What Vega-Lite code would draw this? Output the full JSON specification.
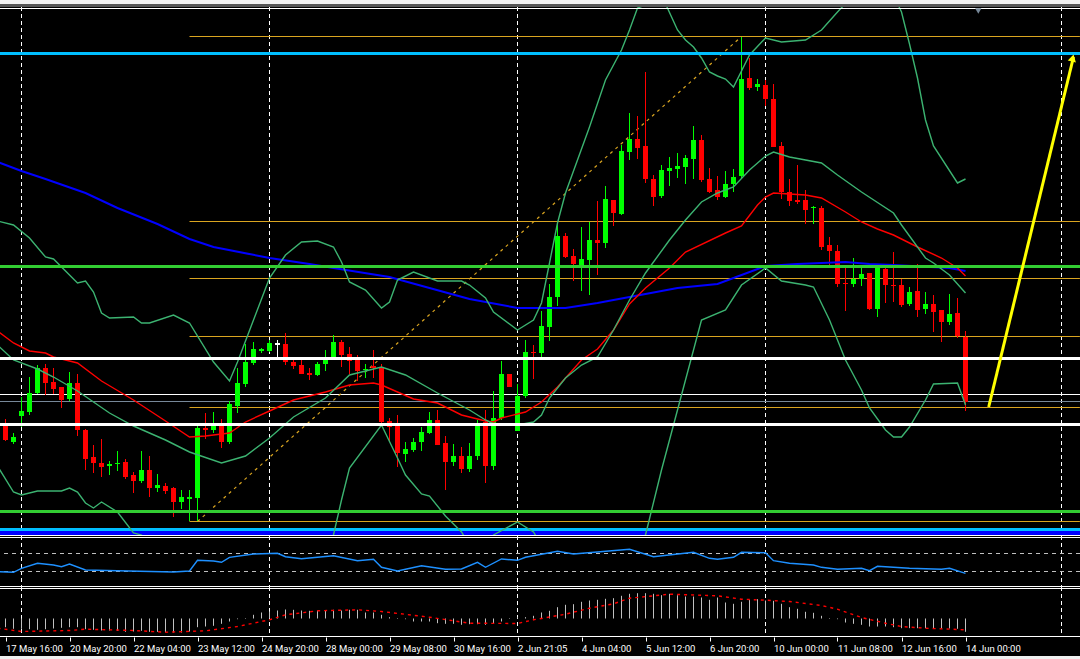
{
"$schema":"https://vega.github.io/schema/vega-lite/v5.json",
"description":"Candlestick chart with moving averages, bands, horizontal levels and two indicator panels.",
"background":"#000000",
"padding":0,
"spacing":0,
"config":{"view":{"stroke":null},"concat":{"spacing":0}},
"datasets":{
"gridBars":[{"bar":2},{"bar":33},{"bar":64},{"bar":95},{"bar":132}],
"candles":[
{"bar":0,"open":233,"high":240,"low":218,"close":219},{"bar":1,"open":217,"high":226,"low":215,"close":222},{"bar":2,"open":243,"high":262,"low":232,"close":248},{"bar":3,"open":247,"high":282,"low":244,"close":266},{"bar":4,"open":266,"high":294,"low":265,"close":291},{"bar":5,"open":291,"high":295,"low":264,"close":276},{"bar":6,"open":277,"high":291,"low":265,"close":270},{"bar":7,"open":272,"high":272,"low":251,"close":259},{"bar":8,"open":260,"high":287,"low":258,"close":276},{"bar":9,"open":276,"high":285,"low":223,"close":229},
{"bar":10,"open":229,"high":230,"low":189,"close":200},{"bar":11,"open":202,"high":214,"low":186,"close":196},{"bar":12,"open":196,"high":220,"low":182,"close":192},{"bar":13,"open":193,"high":198,"low":184,"close":195},{"bar":14,"open":195,"high":208,"low":188,"close":196},{"bar":15,"open":197,"high":200,"low":180,"close":182},{"bar":16,"open":184,"high":187,"low":166,"close":178},{"bar":17,"open":178,"high":208,"low":176,"close":189},{"bar":18,"open":189,"high":203,"low":162,"close":171},{"bar":19,"open":171,"high":185,"low":167,"close":174},
{"bar":20,"open":173,"high":176,"low":165,"close":168},{"bar":21,"open":171,"high":172,"low":142,"close":157},{"bar":22,"open":157,"high":169,"low":150,"close":162},{"bar":23,"open":160,"high":169,"low":138,"close":162},{"bar":24,"open":161,"high":233,"low":138,"close":231},{"bar":25,"open":231,"high":246,"low":220,"close":229},{"bar":26,"open":229,"high":247,"low":226,"close":233},{"bar":27,"open":233,"high":240,"low":211,"close":217},{"bar":28,"open":217,"high":258,"low":215,"close":255},{"bar":29,"open":253,"high":291,"low":246,"close":276},
{"bar":30,"open":275,"high":315,"low":272,"close":297},{"bar":31,"open":296,"high":317,"low":294,"close":310},{"bar":32,"open":308,"high":311,"low":306,"close":310},{"bar":33,"open":308,"high":319,"low":307,"close":316},{"bar":34,"open":315,"high":319,"low":301,"close":315},{"bar":35,"open":315,"high":326,"low":294,"close":297},{"bar":36,"open":297,"high":301,"low":290,"close":293},{"bar":37,"open":294,"high":301,"low":285,"close":285},{"bar":38,"open":286,"high":291,"low":279,"close":284},{"bar":39,"open":284,"high":297,"low":283,"close":295},
{"bar":40,"open":295,"high":309,"low":288,"close":299},{"bar":41,"open":302,"high":324,"low":301,"close":317},{"bar":42,"open":317,"high":319,"low":292,"close":304},{"bar":43,"open":305,"high":312,"low":285,"close":298},{"bar":44,"open":299,"high":304,"low":278,"close":288},{"bar":45,"open":289,"high":295,"low":281,"close":290},{"bar":46,"open":293,"high":309,"low":281,"close":291},{"bar":47,"open":292,"high":295,"low":236,"close":237},{"bar":48,"open":238,"high":241,"low":217,"close":232},{"bar":49,"open":233,"high":244,"low":192,"close":206},
{"bar":50,"open":205,"high":217,"low":197,"close":210},{"bar":51,"open":209,"high":221,"low":207,"close":217},{"bar":52,"open":217,"high":232,"low":208,"close":227},{"bar":53,"open":226,"high":247,"low":225,"close":239},{"bar":54,"open":239,"high":249,"low":214,"close":214},{"bar":55,"open":216,"high":223,"low":169,"close":197},{"bar":56,"open":197,"high":215,"low":193,"close":203},{"bar":57,"open":203,"high":212,"low":186,"close":190},{"bar":58,"open":190,"high":216,"low":187,"close":203},{"bar":59,"open":203,"high":239,"low":199,"close":234},
{"bar":60,"open":237,"high":249,"low":176,"close":193},{"bar":61,"open":193,"high":268,"low":189,"close":241},{"bar":62,"open":241,"high":298,"low":239,"close":285},{"bar":63,"open":285,"high":285,"low":272,"close":272},{"bar":64,"open":228,"high":275,"low":228,"close":263},{"bar":65,"open":263,"high":319,"low":261,"close":307},{"bar":66,"open":307,"high":314,"low":280,"close":306},{"bar":67,"open":306,"high":348,"low":302,"close":333},{"bar":68,"open":332,"high":375,"low":318,"close":362},{"bar":69,"open":362,"high":436,"low":353,"close":423},
{"bar":70,"open":423,"high":426,"low":401,"close":402},{"bar":71,"open":403,"high":410,"low":378,"close":395},{"bar":72,"open":394,"high":432,"low":368,"close":400},{"bar":73,"open":399,"high":437,"low":364,"close":419},{"bar":74,"open":419,"high":458,"low":384,"close":416},{"bar":75,"open":416,"high":473,"low":411,"close":460},{"bar":76,"open":459,"high":459,"low":433,"close":446},{"bar":77,"open":445,"high":514,"low":444,"close":508},{"bar":78,"open":507,"high":546,"low":499,"close":520},{"bar":79,"open":520,"high":543,"low":500,"close":511},
{"bar":80,"open":513,"high":587,"low":476,"close":480},{"bar":81,"open":480,"high":484,"low":453,"close":462},{"bar":82,"open":463,"high":494,"low":461,"close":489},{"bar":83,"open":488,"high":502,"low":473,"close":491},{"bar":84,"open":490,"high":506,"low":481,"close":493},{"bar":85,"open":492,"high":504,"low":475,"close":501},{"bar":86,"open":500,"high":533,"low":480,"close":519},{"bar":87,"open":519,"high":524,"low":477,"close":479},{"bar":88,"open":480,"high":491,"low":466,"close":467},{"bar":89,"open":469,"high":483,"low":459,"close":462},
{"bar":90,"open":462,"high":488,"low":461,"close":475},{"bar":91,"open":475,"high":490,"low":467,"close":482},{"bar":92,"open":483,"high":622,"low":480,"close":580},{"bar":93,"open":581,"high":601,"low":569,"close":571},{"bar":94,"open":572,"high":580,"low":568,"close":575},{"bar":95,"open":574,"high":579,"low":553,"close":560},{"bar":96,"open":560,"high":575,"low":512,"close":512},{"bar":97,"open":513,"high":517,"low":460,"close":467},{"bar":98,"open":467,"high":480,"low":453,"close":458},{"bar":99,"open":459,"high":494,"low":455,"close":457},
{"bar":100,"open":459,"high":469,"low":435,"close":449},{"bar":101,"open":451,"high":453,"low":435,"close":452},{"bar":102,"open":451,"high":453,"low":409,"close":412},{"bar":103,"open":414,"high":422,"low":394,"close":408},{"bar":104,"open":408,"high":414,"low":372,"close":375},{"bar":105,"open":376,"high":391,"low":348,"close":375},{"bar":106,"open":375,"high":401,"low":372,"close":380},{"bar":107,"open":380,"high":391,"low":373,"close":385},{"bar":108,"open":386,"high":386,"low":349,"close":350},{"bar":109,"open":350,"high":394,"low":342,"close":392},
{"bar":110,"open":390,"high":392,"low":356,"close":374},{"bar":111,"open":374,"high":407,"low":357,"close":373},{"bar":112,"open":374,"high":380,"low":352,"close":354},{"bar":113,"open":355,"high":372,"low":353,"close":367},{"bar":114,"open":368,"high":395,"low":342,"close":349},{"bar":115,"open":350,"high":367,"low":345,"close":355},{"bar":116,"open":355,"high":364,"low":327,"close":347},{"bar":117,"open":349,"high":349,"low":317,"close":337},{"bar":118,"open":337,"high":365,"low":334,"close":345},{"bar":119,"open":346,"high":361,"low":321,"close":323},
{"bar":120,"open":322,"high":328,"low":248,"close":257}],
"maSlow":[{"bar":-1,"level":497},{"bar":2,"level":488},{"bar":5,"level":480},{"bar":10,"level":466},{"bar":14,"level":451},{"bar":19,"level":435},{"bar":23,"level":420},{"bar":26,"level":412},{"bar":33,"level":401},{"bar":38,"level":395},{"bar":41,"level":391},{"bar":48,"level":382},{"bar":53,"level":371},{"bar":58,"level":360},{"bar":64,"level":351},{"bar":70,"level":351},{"bar":74,"level":356},{"bar":78,"level":362},{"bar":84,"level":371},{"bar":89,"level":375},{"bar":95,"level":393},{"bar":99,"level":395},{"bar":105,"level":397},{"bar":108,"level":395},{"bar":111,"level":394},{"bar":118,"level":391},{"bar":120,"level":388}],
"maMid":[{"bar":-1,"level":328},{"bar":1,"level":316},{"bar":3,"level":308},{"bar":5,"level":306},{"bar":6,"level":302},{"bar":9,"level":296},{"bar":12,"level":278},{"bar":16,"level":259},{"bar":20,"level":238},{"bar":23,"level":222},{"bar":25,"level":223},{"bar":28,"level":226},{"bar":30,"level":237},{"bar":33,"level":248},{"bar":36,"level":259},{"bar":40,"level":267},{"bar":43,"level":274},{"bar":46,"level":276},{"bar":47,"level":274},{"bar":51,"level":260},{"bar":54,"level":256},{"bar":57,"level":244},{"bar":60,"level":238},{"bar":61,"level":237},{"bar":62,"level":241},{"bar":65,"level":247},{"bar":66,"level":252},{"bar":67,"level":257},{"bar":69,"level":272},{"bar":72,"level":299},{"bar":74,"level":310},{"bar":76,"level":329},{"bar":78,"level":355},{"bar":80,"level":371},{"bar":83,"level":391},{"bar":85,"level":407},{"bar":90,"level":426},{"bar":92,"level":433},{"bar":94,"level":454},{"bar":95,"level":462},{"bar":96,"level":466},{"bar":100,"level":464},{"bar":102,"level":461},{"bar":105,"level":447},{"bar":107,"level":437},{"bar":109,"level":430},{"bar":111,"level":424},{"bar":114,"level":412},{"bar":117,"level":401},{"bar":119,"level":391},{"bar":120,"level":383}],
"bandUpper":[{"bar":-1,"level":438},{"bar":1,"level":434},{"bar":3,"level":421},{"bar":5,"level":402},{"bar":6,"level":400},{"bar":9,"level":376},{"bar":10,"level":378},{"bar":11,"level":367},{"bar":12,"level":346},{"bar":13,"level":341},{"bar":16,"level":342},{"bar":17,"level":336},{"bar":18,"level":336},{"bar":21,"level":344},{"bar":23,"level":336},{"bar":26,"level":297},{"bar":28,"level":278},{"bar":29,"level":297},{"bar":31,"level":339},{"bar":33,"level":381},{"bar":35,"level":404},{"bar":37,"level":417},{"bar":39,"level":418},{"bar":41,"level":412},{"bar":42,"level":397},{"bar":43,"level":377},{"bar":45,"level":369},{"bar":47,"level":351},{"bar":48,"level":357},{"bar":49,"level":379},{"bar":51,"level":387},{"bar":54,"level":378},{"bar":57,"level":378},{"bar":58,"level":374},{"bar":60,"level":361},{"bar":61,"level":347},{"bar":64,"level":329},{"bar":66,"level":339},{"bar":67,"level":356},{"bar":69,"level":436},{"bar":70,"level":466},{"bar":73,"level":532},{"bar":75,"level":579},{"bar":77,"level":609},{"bar":78,"level":629},{"bar":79,"level":651},{"bar":80,"level":654},{"bar":82,"level":664},{"bar":84,"level":629},{"bar":85,"level":619},{"bar":86,"level":612},{"bar":87,"level":601},{"bar":88,"level":587},{"bar":89,"level":583},{"bar":90,"level":580},{"bar":91,"level":572},{"bar":93,"level":604},{"bar":95,"level":621},{"bar":97,"level":617},{"bar":100,"level":619},{"bar":102,"level":629},{"bar":104,"level":647},{"bar":106,"level":664},{"bar":111,"level":664},{"bar":112,"level":647},{"bar":113,"level":615},{"bar":114,"level":581},{"bar":115,"level":539},{"bar":116,"level":513},{"bar":119,"level":476},{"bar":120,"level":480}],
"bandInner":[{"bar":-1,"level":314},{"bar":1,"level":299},{"bar":4,"level":290},{"bar":6,"level":282},{"bar":9,"level":268},{"bar":13,"level":246},{"bar":16,"level":233},{"bar":20,"level":219},{"bar":23,"level":207},{"bar":27,"level":196},{"bar":30,"level":203},{"bar":33,"level":221},{"bar":36,"level":242},{"bar":40,"level":261},{"bar":43,"level":284},{"bar":47,"level":292},{"bar":50,"level":284},{"bar":54,"level":266},{"bar":58,"level":249},{"bar":60,"level":239},{"bar":61,"level":235},{"bar":64,"level":234},{"bar":66,"level":237},{"bar":67,"level":244},{"bar":68,"level":261},{"bar":70,"level":281},{"bar":72,"level":294},{"bar":74,"level":302},{"bar":76,"level":329},{"bar":78,"level":359},{"bar":80,"level":386},{"bar":83,"level":419},{"bar":85,"level":439},{"bar":87,"level":457},{"bar":89,"level":466},{"bar":91,"level":472},{"bar":93,"level":489},{"bar":95,"level":503},{"bar":96,"level":507},{"bar":98,"level":502},{"bar":102,"level":496},{"bar":104,"level":484},{"bar":107,"level":467},{"bar":111,"level":446},{"bar":112,"level":434},{"bar":115,"level":401},{"bar":116,"level":396},{"bar":118,"level":384},{"bar":120,"level":366}],
"bandLower":[{"bar":-1,"level":193},{"bar":1,"level":167},{"bar":2,"level":164},{"bar":4,"level":168},{"bar":7,"level":168},{"bar":8,"level":171},{"bar":9,"level":167},{"bar":10,"level":156},{"bar":11,"level":151},{"bar":12,"level":157},{"bar":14,"level":147},{"bar":16,"level":126},{"bar":17,"level":124},{"bar":18,"level":114},{"bar":40,"level":114},{"bar":41,"level":124},{"bar":42,"level":159},{"bar":43,"level":191},{"bar":47,"level":234},{"bar":49,"level":201},{"bar":50,"level":184},{"bar":52,"level":165},{"bar":53,"level":163},{"bar":55,"level":143},{"bar":57,"level":127},{"bar":58,"level":114},{"bar":60,"level":114},{"bar":61,"level":124},{"bar":64,"level":137},{"bar":66,"level":127},{"bar":67,"level":114},{"bar":78,"level":114},{"bar":80,"level":124},{"bar":82,"level":189},{"bar":84,"level":249},{"bar":87,"level":339},{"bar":90,"level":349},{"bar":92,"level":374},{"bar":95,"level":391},{"bar":97,"level":378},{"bar":100,"level":374},{"bar":101,"level":372},{"bar":103,"level":339},{"bar":105,"level":299},{"bar":107,"level":269},{"bar":108,"level":251},{"bar":110,"level":229},{"bar":111,"level":222},{"bar":112,"level":222},{"bar":113,"level":232},{"bar":115,"level":259},{"bar":116,"level":275},{"bar":119,"level":276},{"bar":120,"level":254}],
"oscillator":[{"bar":-1,"value":15.3},{"bar":1,"value":14.7},{"bar":2,"value":18.7},{"bar":4,"value":23.7},{"bar":6,"value":22},{"bar":7,"value":20.3},{"bar":8,"value":23},{"bar":10,"value":17},{"bar":14,"value":16.3},{"bar":21,"value":15},{"bar":23,"value":16},{"bar":24,"value":26.7},{"bar":26,"value":26},{"bar":27,"value":24.7},{"bar":28,"value":29.7},{"bar":31,"value":33},{"bar":34,"value":33.7},{"bar":35,"value":30.3},{"bar":37,"value":28.3},{"bar":41,"value":31.3},{"bar":44,"value":26.3},{"bar":46,"value":27.7},{"bar":47,"value":19.7},{"bar":49,"value":16},{"bar":52,"value":21.3},{"bar":55,"value":17.7},{"bar":57,"value":18},{"bar":59,"value":24.7},{"bar":60,"value":19.7},{"bar":62,"value":28},{"bar":64,"value":26.7},{"bar":65,"value":29.7},{"bar":69,"value":35.7},{"bar":71,"value":33},{"bar":78,"value":37.7},{"bar":81,"value":30.3},{"bar":86,"value":34.7},{"bar":88,"value":28.7},{"bar":89,"value":27.7},{"bar":91,"value":29.7},{"bar":92,"value":34.7},{"bar":95,"value":34.3},{"bar":96,"value":26.3},{"bar":98,"value":23.7},{"bar":101,"value":22},{"bar":102,"value":19.7},{"bar":104,"value":17.7},{"bar":107,"value":18.7},{"bar":108,"value":16.3},{"bar":109,"value":20.7},{"bar":113,"value":18.7},{"bar":117,"value":17.7},{"bar":118,"value":18.7},{"bar":120,"value":13.7}],
"histogram":[{"bar":0,"value":-8.7},{"bar":1,"value":-10.3},{"bar":2,"value":-10.3},{"bar":3,"value":-10.7},{"bar":4,"value":-11.3},{"bar":5,"value":-10.7},{"bar":6,"value":-10},{"bar":7,"value":-9.3},{"bar":8,"value":-8.7},{"bar":9,"value":-8.7},{"bar":10,"value":-10.7},{"bar":11,"value":-11.3},{"bar":12,"value":-12},{"bar":13,"value":-12},{"bar":14,"value":-12.3},{"bar":15,"value":-13.3},{"bar":16,"value":-13},{"bar":17,"value":-12.3},{"bar":18,"value":-13.3},{"bar":19,"value":-13.3},{"bar":20,"value":-13.7},{"bar":21,"value":-14},{"bar":22,"value":-14},{"bar":23,"value":-13},{"bar":24,"value":-8.7},{"bar":25,"value":-8},{"bar":26,"value":-7.3},{"bar":27,"value":-5.3},{"bar":28,"value":-3},{"bar":29,"value":-0.7},{"bar":30,"value":-0.5},{"bar":31,"value":3.7},{"bar":32,"value":6},{"bar":33,"value":7},{"bar":34,"value":8},{"bar":35,"value":9},{"bar":36,"value":8.7},{"bar":37,"value":8},{"bar":38,"value":7.7},{"bar":39,"value":8},{"bar":40,"value":8},{"bar":41,"value":8.7},{"bar":42,"value":8},{"bar":43,"value":8.7},{"bar":44,"value":8.7},{"bar":45,"value":6},{"bar":46,"value":6},{"bar":47,"value":3.7},{"bar":48,"value":1.3},{"bar":49,"value":0.5},{"bar":50,"value":-0.7},{"bar":51,"value":-3},{"bar":52,"value":-3},{"bar":53,"value":-3},{"bar":54,"value":-4.7},{"bar":55,"value":-5.3},{"bar":56,"value":-5.3},{"bar":57,"value":-6.3},{"bar":58,"value":-5.7},{"bar":59,"value":-5.7},{"bar":60,"value":-6.3},{"bar":61,"value":-4.7},{"bar":62,"value":-3},{"bar":63,"value":-0.5},{"bar":64,"value":1.3},{"bar":65,"value":1.3},{"bar":66,"value":2.7},{"bar":67,"value":6},{"bar":68,"value":7.7},{"bar":69,"value":11.3},{"bar":70,"value":13.7},{"bar":71,"value":14.3},{"bar":72,"value":16.7},{"bar":73,"value":18},{"bar":74,"value":18.7},{"bar":75,"value":19.7},{"bar":76,"value":20.3},{"bar":77,"value":22.7},{"bar":78,"value":24.7},{"bar":79,"value":25.3},{"bar":80,"value":25.3},{"bar":81,"value":24.7},{"bar":82,"value":23.3},{"bar":83,"value":24.7},{"bar":84,"value":23.3},{"bar":85,"value":22},{"bar":86,"value":22},{"bar":87,"value":21},{"bar":88,"value":18.7},{"bar":89,"value":21},{"bar":90,"value":16},{"bar":91,"value":14.7},{"bar":92,"value":16.7},{"bar":93,"value":18.7},{"bar":94,"value":19.3},{"bar":95,"value":18},{"bar":96,"value":17.7},{"bar":97,"value":14.7},{"bar":98,"value":11.3},{"bar":99,"value":9.7},{"bar":100,"value":6.7},{"bar":101,"value":5.7},{"bar":102,"value":2.7},{"bar":103,"value":0.5},{"bar":104,"value":-0.7},{"bar":105,"value":-4},{"bar":106,"value":-5.3},{"bar":107,"value":-6.3},{"bar":108,"value":-8},{"bar":109,"value":-8},{"bar":110,"value":-8},{"bar":111,"value":-8.7},{"bar":112,"value":-9.7},{"bar":113,"value":-9.7},{"bar":114,"value":-9.7},{"bar":115,"value":-9.7},{"bar":116,"value":-10},{"bar":117,"value":-10},{"bar":118,"value":-10},{"bar":119,"value":-10.3},{"bar":120,"value":-13.3}],
"signal":[{"bar":-1,"value":-9.7},{"bar":2,"value":-13},{"bar":8,"value":-12},{"bar":10,"value":-10.7},{"bar":16,"value":-12},{"bar":20,"value":-13.7},{"bar":25,"value":-12.3},{"bar":29,"value":-8},{"bar":33,"value":-1.3},{"bar":35,"value":3.7},{"bar":39,"value":7.7},{"bar":44,"value":8.7},{"bar":47,"value":7},{"bar":53,"value":1.3},{"bar":58,"value":-4.7},{"bar":64,"value":-5},{"bar":66,"value":-1.3},{"bar":70,"value":4.3},{"bar":73,"value":10.3},{"bar":76,"value":14.7},{"bar":78,"value":20.3},{"bar":83,"value":24.3},{"bar":89,"value":22.7},{"bar":92,"value":19.3},{"bar":95,"value":18.3},{"bar":98,"value":17},{"bar":102,"value":13},{"bar":104,"value":9.3},{"bar":107,"value":1},{"bar":110,"value":-4.7},{"bar":112,"value":-8},{"bar":115,"value":-9.7},{"bar":120,"value":-11.3}]
},
"vconcat":[
{"width":1080,"height":4,"view":{"fill":"#f0f0f0"},"mark":{"type":"rule","opacity":0,"clip":true},"encoding":{}},
{"width":1080,"height":3,"view":{"fill":"#555555"},"mark":{"type":"rule","opacity":0,"clip":true},"encoding":{}},
{"width":1080,"height":529,
"encoding":{
"x":{"field":"bar","type":"quantitative","axis":null,"scale":{"domain":[-0.6875,134.3125],"nice":false,"zero":false,"padding":0}},
"y":{"field":"level","type":"quantitative","axis":null,"scale":{"domain":[123,652],"nice":false,"zero":false}}
},
"layer":[
{"data":{"name":"gridBars"},"mark":{"type":"rule","color":"#ffffff","strokeDash":[4,3],"strokeWidth":1,"clip":true},"encoding":{"y":null}},
{"data":{"values":[{"level":264.5}]},"mark":{"type":"rule","color":"#ffffff","strokeWidth":1,"clip":true},"encoding":{"x":null}},
{"data":{"values":[{"level":257.5}]},"mark":{"type":"rule","color":"#778899","strokeWidth":1,"clip":true},"encoding":{"x":null}},
{"data":{"values":[{"bar":23,"barEnd":134.3,"level":622.5},{"bar":23,"barEnd":134.3,"level":437.5},{"bar":23,"barEnd":134.3,"level":380.5},{"bar":23,"barEnd":134.3,"level":322.5},{"bar":23,"barEnd":134.3,"level":251.5},{"bar":23,"barEnd":134.3,"level":137.5}]},"mark":{"type":"rule","color":"#daa520","strokeWidth":1,"clip":true},"encoding":{"x2":{"field":"barEnd"}}},
{"data":{"values":[{"bar":24,"level":137.5},{"bar":92,"level":622.5}]},"mark":{"type":"line","color":"#daa520","strokeWidth":1.2,"strokeDash":[3,4],"clip":true}},
{"data":{"values":[{"level":126}]},"mark":{"type":"rule","color":"#0000ff","strokeWidth":4,"clip":true},"encoding":{"x":null}},
{"data":{"values":[{"level":129.5}]},"mark":{"type":"rule","color":"#00bfff","strokeWidth":3,"clip":true},"encoding":{"x":null}},
{"data":{"name":"candles"},"mark":{"type":"rule","strokeWidth":1,"clip":true},"encoding":{"y":{"field":"low","type":"quantitative","axis":null,"scale":{"domain":[123,652],"nice":false,"zero":false}},"y2":{"field":"high"},"color":{"condition":[{"test":"datum.close>datum.open","value":"#00ff00"},{"test":"datum.close<datum.open","value":"#ff0000"}],"value":"#ffffff"}}},
{"data":{"name":"candles"},"mark":{"type":"bar","size":5,"clip":true},"encoding":{"y":{"field":"open","type":"quantitative","axis":null,"scale":{"domain":[123,652],"nice":false,"zero":false}},"y2":{"field":"close"},"color":{"condition":[{"test":"datum.close>datum.open","value":"#00ff00"}],"value":"#ff0000"}}},
{"data":{"name":"candles"},"transform":[{"filter":"datum.open==datum.close"}],"mark":{"type":"tick","orient":"horizontal","size":5,"thickness":2,"color":"#ffffff","opacity":1,"clip":true},"encoding":{"y":{"field":"close","type":"quantitative","axis":null,"scale":{"domain":[123,652],"nice":false,"zero":false}}}},
{"data":{"name":"maSlow"},"mark":{"type":"line","color":"#0000ff","strokeWidth":2,"clip":true}},
{"data":{"name":"maMid"},"mark":{"type":"line","color":"#ff0000","strokeWidth":1.4,"clip":true}},
{"data":{"name":"bandUpper"},"mark":{"type":"line","color":"#3cb371","strokeWidth":1.4,"clip":true}},
{"data":{"name":"bandInner"},"mark":{"type":"line","color":"#3cb371","strokeWidth":1.4,"clip":true}},
{"data":{"name":"bandLower"},"mark":{"type":"line","color":"#3cb371","strokeWidth":1.4,"clip":true}},
{"data":{"values":[{"level":392.5},{"level":147.5}]},"mark":{"type":"rule","color":"#32cd32","strokeWidth":3,"clip":true},"encoding":{"x":null}},
{"data":{"values":[{"level":300.5},{"level":234.5}]},"mark":{"type":"rule","color":"#ffffff","strokeWidth":3,"clip":true},"encoding":{"x":null}},
{"data":{"values":[{"level":605.5}]},"mark":{"type":"rule","color":"#00bfff","strokeWidth":3,"clip":true},"encoding":{"x":null}},
{"data":{"values":[{"level":650.5},{"level":123.5}]},"mark":{"type":"rule","color":"#ffffff","strokeWidth":1,"clip":true},"encoding":{"x":null}},
{"data":{"values":[{"bar":122.9,"level":252},{"bar":133.5,"level":602}]},"mark":{"type":"line","color":"#ffff00","strokeWidth":3,"clip":true}},
{"data":{"values":[{"bar":133.4,"level":601}]},"mark":{"type":"point","shape":"triangle-up","filled":true,"size":70,"angle":14,"color":"#ffff00","opacity":1,"clip":true}},
{"data":{"values":[{"bar":121.6,"level":648}]},"mark":{"type":"point","shape":"triangle-down","filled":true,"size":40,"color":"#778899","opacity":1,"clip":true}}
]},
{"width":1080,"height":51,
"encoding":{
"x":{"field":"bar","type":"quantitative","axis":null,"scale":{"domain":[-0.6875,134.3125],"nice":false,"zero":false}},
"y":{"field":"value","type":"quantitative","axis":null,"scale":{"domain":[0,51],"nice":false,"zero":false}}
},
"layer":[
{"data":{"name":"gridBars"},"mark":{"type":"rule","color":"#ffffff","strokeDash":[4,3],"strokeWidth":1,"clip":true},"encoding":{"y":null}},
{"data":{"values":[{"value":33.5},{"value":15.5}]},"mark":{"type":"rule","color":"#c0c0c0","strokeWidth":1,"strokeDash":[4,4],"clip":true},"encoding":{"x":null}},
{"data":{"values":[{"value":49.5},{"value":0.5}]},"mark":{"type":"rule","color":"#ffffff","strokeWidth":1,"clip":true},"encoding":{"x":null}},
{"data":{"name":"oscillator"},"mark":{"type":"line","color":"#1e90ff","strokeWidth":1.4,"clip":true}}
]},
{"width":1080,"height":50,
"encoding":{
"x":{"field":"bar","type":"quantitative","title":null,"scale":{"domain":[-0.6875,134.3125],"nice":false,"zero":false},"axis":{"title":null,"values":[0,8,16,24,32,40,48,56,64,72,80,88,96,104,112,120],"labelExpr":"['17 May 16:00','20 May 20:00','22 May 04:00','23 May 12:00','24 May 20:00','28 May 00:00','29 May 08:00','30 May 16:00','2 Jun 21:05','4 Jun 04:00','5 Jun 12:00','6 Jun 20:00','10 Jun 00:00','11 Jun 08:00','12 Jun 16:00','14 Jun 00:00'][datum.value/8]","grid":false,"domain":false,"tickColor":"#ffffff","tickSize":4,"labelColor":"#ffffff","labelAlign":"left","labelFont":"Roboto","labelFontSize":9.5,"labelPadding":2,"labelOverlap":false,"labelBound":false,"labelFlush":false,"minExtent":19,"maxExtent":19}},
"y":{"field":"value","type":"quantitative","axis":null,"scale":{"domain":[-18.5,31.5],"nice":false,"zero":false}}
},
"layer":[
{"data":{"name":"gridBars"},"mark":{"type":"rule","color":"#ffffff","strokeDash":[4,3],"strokeWidth":1,"clip":true},"encoding":{"y":null}},
{"data":{"values":[{"value":30},{"value":-18}]},"mark":{"type":"rule","color":"#ffffff","strokeWidth":1,"clip":true},"encoding":{"x":null}},
{"data":{"name":"histogram"},"mark":{"type":"rule","color":"#c0c0c0","strokeWidth":1,"clip":true},"encoding":{"y2":{"datum":0}}},
{"data":{"name":"signal"},"mark":{"type":"line","color":"#ff0000","strokeWidth":1.4,"strokeDash":[3,4],"clip":true}}
]},
{"width":1080,"height":3,"view":{"fill":"#f0f0f0"},"mark":{"type":"rule","opacity":0,"clip":true},"encoding":{}}
]
}
